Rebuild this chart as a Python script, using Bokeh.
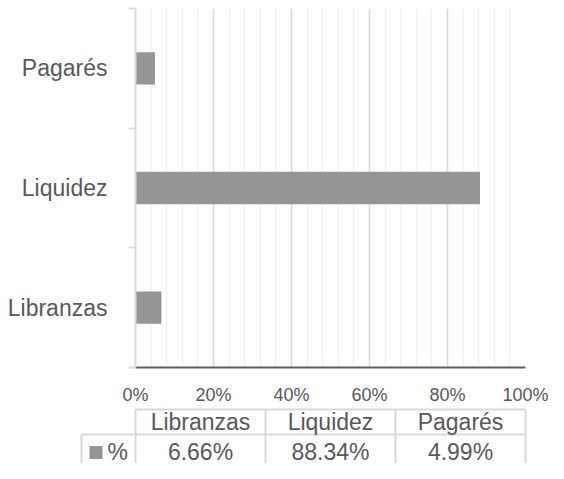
from bokeh.plotting import figure
from bokeh.models import Range1d, FixedTicker, PrintfTickFormatter, ColumnDataSource
from bokeh.layouts import column
from bokeh.core.properties import value
from bokeh.embed import file_html
from bokeh.resources import INLINE

# ---- data ----
categories = ["Libranzas", "Liquidez", "Pagarés"]
values = [6.66, 88.34, 4.99]
x_ticks = [0, 20, 40, 60, 80, 100]
series_name = "%"

FONT = "Liberation Sans"
TEXT = "#595959"
BAR = "#959595"
GRID = "#d9d9d9"
MINOR = "#edf1f7"

n = len(categories)
ys = [i + 0.5 for i in range(n)]

W = 548
H1 = 407
H2 = 56
LEFT = 135
RIGHT = 525

# ---- bar chart ----
p = figure(width=W, height=H1, output_backend="svg", toolbar_location=None,
           x_range=Range1d(0, 100), y_range=Range1d(0, n),
           min_border_left=LEFT, min_border_right=W - RIGHT,
           min_border_top=8, min_border_bottom=35)
p.frame_align = False
p.outline_line_color = None
p.background_fill_color = "white"
p.border_fill_color = "white"

src = ColumnDataSource(dict(y=ys, v=values, c=categories))
p.hbar(y="y", right="v", left=0, height=0.27, source=src,
       fill_color=BAR, line_color=None)

# x axis
p.xaxis.ticker = FixedTicker(ticks=x_ticks, minor_ticks=list(range(0, 101, 4)))
p.xaxis.formatter = PrintfTickFormatter(format="%d%%")
p.xaxis.axis_line_color = "#5f5f5f"
p.xaxis.axis_line_width = 2
p.xaxis.major_tick_line_color = None
p.xaxis.minor_tick_line_color = None
p.xaxis.major_label_text_font = FONT
p.xaxis.major_label_text_font_size = "18px"
p.xaxis.major_label_text_color = TEXT
p.xaxis.major_label_standoff = 11

p.xgrid.grid_line_color = GRID
p.xgrid.grid_line_width = 1.5
p.xgrid.minor_grid_line_color = MINOR
p.xgrid.minor_grid_line_width = 1.5
p.ygrid.grid_line_color = None

# y axis
p.yaxis.ticker = FixedTicker(ticks=ys, minor_ticks=list(range(0, n + 1)))
p.yaxis.major_label_overrides = {y: c for y, c in zip(ys, categories)}
p.yaxis.axis_line_color = GRID
p.yaxis.axis_line_width = 2
p.yaxis.major_tick_line_color = None
p.yaxis.major_tick_out = 0
p.yaxis.major_tick_in = 0
p.yaxis.minor_tick_line_color = GRID
p.yaxis.minor_tick_line_width = 2
p.yaxis.minor_tick_out = 7
p.yaxis.minor_tick_in = 0
p.yaxis.major_label_text_font = FONT
p.yaxis.major_label_text_font_size = "23px"
p.yaxis.major_label_text_color = TEXT
p.yaxis.major_label_standoff = 21

# ---- data table ----
col_px = (RIGHT - LEFT) / n
t = figure(width=W, height=H2, output_backend="svg", toolbar_location=None,
           x_range=Range1d(-LEFT / col_px, (W - LEFT) / col_px),
           y_range=Range1d(H2 - 2, -2),
           min_border=0, min_border_left=0, min_border_right=0,
           min_border_top=0, min_border_bottom=0,
           x_axis_location=None, y_axis_location=None)
t.frame_align = False
t.outline_line_color = None
t.grid.visible = False

leg_x = -54 / col_px
x0s = [0, leg_x] + [i for i in range(n + 1)] + [leg_x]
x1s = [n, n] + [i for i in range(n + 1)] + [leg_x]
y0s = [0, 25] + [0] * (n + 1) + [25]
y1s = [0, 25] + [H2 + 5] * (n + 1) + [H2 + 5]
t.segment(x0=x0s, y0=y0s, x1=x1s, y1=y1s, line_color=GRID, line_width=2)

t.text(x=ys, y=[12.5] * n, text=categories, text_align="center",
       text_baseline="middle", text_font=value(FONT), text_font_size="23px",
       text_color=TEXT)
t.text(x=ys, y=[42] * n, text=[f"{v:.2f}%" for v in values], text_align="center",
       text_baseline="middle", text_font=value(FONT), text_font_size="23px",
       text_color=TEXT)
t.scatter(x=[-39.5 / col_px], y=[43], marker="square", size=13,
          fill_color=BAR, line_color=None)
t.text(x=[-28 / col_px], y=[42], text=[series_name], text_align="left",
       text_baseline="middle", text_font=value(FONT), text_font_size="23px",
       text_color=TEXT)

layout = column(p, t, spacing=0)
open("out.html", "w").write(file_html(layout, INLINE))
